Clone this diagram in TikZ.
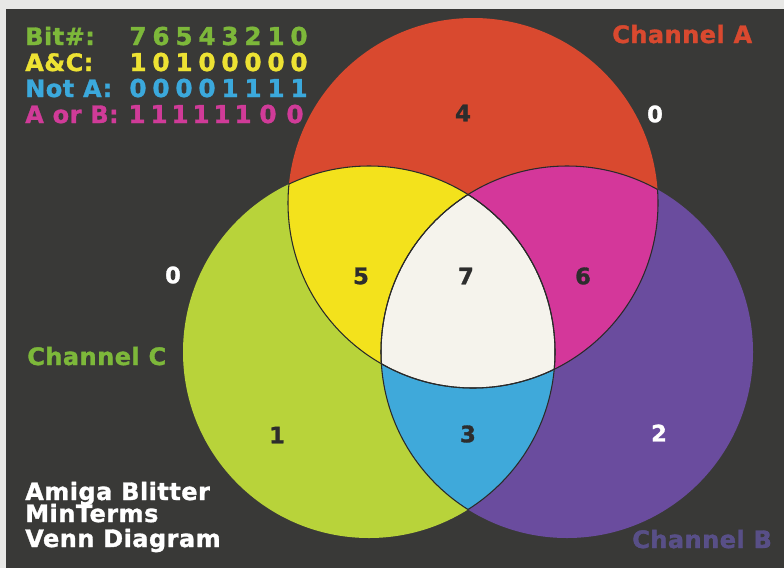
\documentclass[tikz,border=0pt]{standalone}
\usepackage{fontspec}
\setmainfont{DejaVu Sans}
\newfontfamily\heavy{DejaVu Sans Bold}[FakeBold=1.3, LetterSpace=2]
\newfontfamily\heavydig{DejaVu Sans Bold}[FakeBold=1.3]
\definecolor{bgdark}{HTML}{393937}
\definecolor{border}{HTML}{E8E8E6}
\definecolor{cA}{HTML}{D9492F}
\definecolor{cB}{HTML}{6A4C9E}
\definecolor{cC}{HTML}{B8D33A}
\definecolor{cAC}{HTML}{F3E21C}
\definecolor{cAB}{HTML}{D4379A}
\definecolor{cBC}{HTML}{3FA9DA}
\definecolor{cABC}{HTML}{F5F3EC}
\definecolor{tgreen}{HTML}{7DB83A}
\definecolor{tyellow}{HTML}{EDE233}
\definecolor{tcyan}{HTML}{3BA9DC}
\definecolor{tmag}{HTML}{D03B98}
\definecolor{tpurple}{HTML}{5E5496}
\definecolor{numdark}{HTML}{2D2D2D}
\definecolor{edge}{HTML}{2A2A2A}
\begin{document}
\begin{tikzpicture}[x=0.75pt,y=-0.75pt,
  txt/.style={font=\heavy\fontsize{18}{20}\selectfont, inner sep=0pt, anchor=base west},
  dig/.style={font=\heavydig\fontsize{18.5}{20}\selectfont, inner sep=0pt, anchor=base},
  num/.style={font=\heavydig\fontsize{17}{19}\selectfont, inner sep=0pt, text=numdark},
  edgeline/.style={draw=edge, line width=0.8pt}]
\useasboundingbox (0,0) rectangle (784,568);
\fill[border] (0,0) rectangle (784,568);
\fill[bgdark] (6,9) rectangle (784,568);
\coordinate (A) at (473,203);
\coordinate (B) at (567,352);
\coordinate (C) at (369,352);
\def\rA{185}\def\rB{186}\def\rC{186}
% base circles
\fill[cA] (A) circle[radius=\rA];
\fill[cB] (B) circle[radius=\rB];
\fill[cC] (C) circle[radius=\rC];
% pairwise intersections
\begin{scope}\clip (A) circle[radius=\rA]; \fill[cAC] (C) circle[radius=\rC]; \end{scope}
\begin{scope}\clip (A) circle[radius=\rA]; \fill[cAB] (B) circle[radius=\rB]; \end{scope}
\begin{scope}\clip (B) circle[radius=\rB]; \fill[cBC] (C) circle[radius=\rC]; \end{scope}
\begin{scope}\clip (A) circle[radius=\rA]; \clip (B) circle[radius=\rB]; \fill[cABC] (C) circle[radius=\rC]; \end{scope}
% internal edges
\begin{scope}\clip (B) circle[radius=\rB]; \draw[edgeline] (A) circle[radius=\rA]; \end{scope}
\begin{scope}\clip (C) circle[radius=\rC]; \draw[edgeline] (A) circle[radius=\rA]; \end{scope}
\begin{scope}\clip (A) circle[radius=\rA]; \draw[edgeline] (B) circle[radius=\rB]; \end{scope}
\begin{scope}\clip (C) circle[radius=\rC]; \draw[edgeline] (B) circle[radius=\rB]; \end{scope}
\begin{scope}\clip (A) circle[radius=\rA]; \draw[edgeline] (C) circle[radius=\rC]; \end{scope}
\begin{scope}\clip (B) circle[radius=\rB]; \draw[edgeline] (C) circle[radius=\rC]; \end{scope}
% region numbers
\node[num] (n4) at (463,113) {4};
\node[num] (n5) at (361,276) {5};
\node[num] (n7) at (466,276) {7};
\node[num] (n6) at (583,276) {6};
\node[num] (n1) at (277,435) {1};
\node[num] (n3) at (468,434) {3};
\node[num, text=white] (n2) at (659,433) {2};
\node[num, text=white] (n0a) at (655,114) {0};
\node[num, text=white] (n0b) at (173,275) {0};
% channel labels
\node[txt, text=cA] (chA) at (612,43) {Channel A};
\node[txt, text=tgreen] (chC) at (27,365) {Channel C};
\node[txt, text=tpurple, opacity=0.85] (chB) at (632,548) {Channel B};
% title
\node[txt, text=white] (t1) at (25,500) {Amiga Blitter};
\node[txt, text=white] (t2) at (25,522) {MinTerms};
\node[txt, text=white] (t3) at (25,547) {Venn Diagram};
% bit table
\node[txt, text=tgreen] (r1) at (25,45) {Bit\#:};
\node[txt, text=tyellow] (r2) at (25,71) {A\&C:};
\node[txt, text=tcyan] (r3) at (25,97) {Not A:};
\node[txt, text=tmag] (r4) at (25,123) {A or B:};
\foreach \d [count=\i from 0] in {7,6,5,4,3,2,1,0}
  \node[dig, text=tgreen] (b1\i) at (138+23*\i,45) {\d};
\foreach \d [count=\i from 0] in {1,0,1,0,0,0,0,0}
  \node[dig, text=tyellow] (b2\i) at (138+23*\i,71) {\d};
\foreach \d [count=\i from 0] in {0,0,0,0,1,1,1,1}
  \node[dig, text=tcyan] (b3\i) at (138+23*\i,97) {\d};
\foreach \d/\x [count=\i from 0] in {1/137,1/159,1/180,1/201,1/222,1/243,0/268,0/295}
  \node[dig, text=tmag] (b4\i) at (\x,123) {\d};
\end{tikzpicture}
\end{document}
